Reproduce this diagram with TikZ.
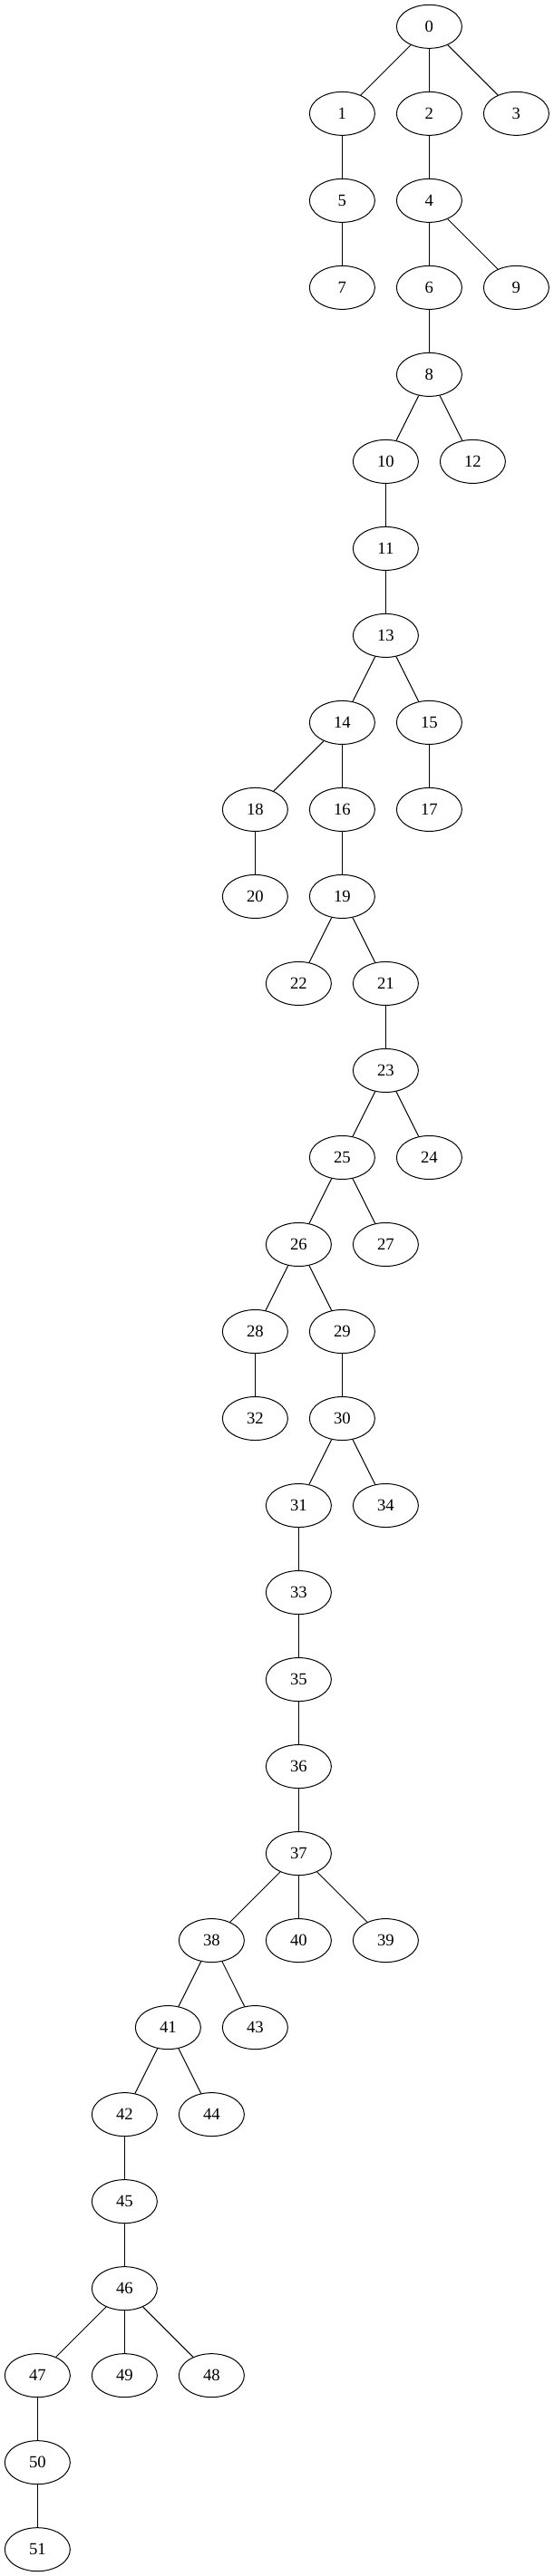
\documentclass[tikz,border=0pt]{standalone}
\usepackage{fontspec}
\setmainfont{Liberation Serif}
\usetikzlibrary{shapes.geometric}
\begin{document}
\begin{tikzpicture}[x=1pt,y=1pt,
  vnode/.style={draw,ellipse,minimum width=54pt,minimum height=36pt,inner sep=0pt,line width=0.75pt,font=\fontsize{14}{16}\selectfont},
  edge/.style={line width=0.75pt}]
\useasboundingbox (0,0) rectangle (458,-2132);
\foreach \n/\k/\r in {0/9/0,1/7/1,2/9/1,3/11/1,5/7/2,4/9/2,7/7/3,6/9/3,9/11/3,8/9/4,10/8/5,12/10/5,11/8/6,13/8/7,14/7/8,15/9/8,18/5/9,16/7/9,17/9/9,20/5/10,19/7/10,22/6/11,21/8/11,23/8/12,25/7/13,24/9/13,26/6/14,27/8/14,28/5/15,29/7/15,32/5/16,30/7/16,31/6/17,34/8/17,33/6/18,35/6/19,36/6/20,37/6/21,38/4/22,40/6/22,39/8/22,41/3/23,43/5/23,42/2/24,44/4/24,45/2/25,46/2/26,47/0/27,49/2/27,48/4/27,50/0/28,51/0/29}
  \node[vnode] (n\n) at ({31+36*\k},{-(22+72*\r)}) {\n};
\foreach \a/\b in {0/1,0/2,0/3,1/5,5/7,2/4,4/6,4/9,6/8,8/10,8/12,10/11,11/13,13/14,13/15,14/18,14/16,15/17,18/20,16/19,19/22,19/21,21/23,23/25,23/24,25/26,25/27,26/28,26/29,28/32,29/30,30/31,30/34,31/33,33/35,35/36,36/37,37/38,37/40,37/39,38/41,38/43,41/42,41/44,42/45,45/46,46/47,46/49,46/48,47/50,50/51}
  \draw[edge] (n\a) -- (n\b);
\end{tikzpicture}
\end{document}
